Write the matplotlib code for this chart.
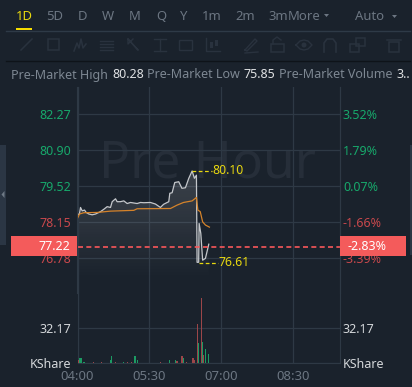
import numpy as np
import matplotlib
matplotlib.use('Agg')
import matplotlib.pyplot as plt
from matplotlib.patches import Rectangle, Circle, Polygon

# minutes after 04:00, prices
line_minutes = [0.4, 2.5, 3.8, 5.9, 8.8, 10.9, 14.2, 18.4, 22.6, 28.8, 33, 37.2, 41.4, 43.5, 47.7, 49.7, 53.9,
                58.1, 62.3, 66.5, 70.6, 74.8, 79, 83.2, 91.5, 97.8, 104, 108, 114.5, 115.8, 118.7, 122, 127,
                131, 135.4, 139.6, 143.8, 146.7, 149.2, 150, 152, 152.6, 154.7, 157, 160.5, 164.7]
line_prices = [78.42, 78.48, 78.71, 78.58, 78.61, 78.52, 78.46, 78.43, 78.46, 78.55, 78.64, 78.74, 78.71, 78.93,
               79.04, 78.93, 78.93, 78.96, 78.86, 78.90, 78.88, 78.86, 78.90, 78.89, 78.90, 78.84, 78.71, 78.83,
               78.93, 79.25, 79.27, 79.66, 79.69, 79.44, 79.46, 79.82, 80.10, 79.82, 79.94, 76.62, 76.62, 78.10,
               77.72, 76.70, 76.77, 77.31]

avg_minutes = [0.4, 2.5, 8, 24.7, 41.4, 70.6, 74.8, 116.6, 125, 133, 143.8, 149.2, 151, 154, 157, 160.5, 165.5]
avg_prices = [78.32, 78.46, 78.51, 78.52, 78.57, 78.60, 78.66, 78.67, 78.80, 78.90, 78.96, 79.09, 78.61, 78.55,
              78.16, 78.04, 77.96]

red_minutes = [0.3, 1.5, 20, 30, 48, 63, 68, 104, 125, 131, 133, 137, 144.7, 147, 150.5, 155.6, 158]
red_volumes = [8.5, 3, 1, 1, 1.2, 1, 1.2, 1, 1.8, 6, 3, 1, 4.5, 3, 35.8, 59.7, 7]
green_minutes = [3, 4.5, 8, 42, 43, 58, 72, 75, 115, 122.5, 132.6, 152, 157, 160.6, 164]
green_volumes = [5, 4.6, 1, 2.4, 6.7, 1, 6.7, 2.4, 3, 3, 4.3, 18, 19, 13, 8]

price_ticks = [82.27, 80.90, 79.52, 78.15, 76.78]
price_labels = ['82.27', '80.90', '79.52', '78.15', '76.78']
pct_labels = ['3.52%', '1.79%', '0.07%', '-1.66%', '-3.39%']
tick_colors = ['#17a86b', '#17a86b', '#17a86b', '#c8484c', '#c8484c']
time_ticks = [0, 90, 180, 270]
time_labels = ['04:00', '05:30', '07:00', '08:30']
vol_ticks = [0, 32.17, 64.34]
current_price = 77.22
high_price = 80.10
low_price = 76.61

BG = '#1a222c'
GRID = '#2e3945'
W, H = 412, 387

plt.rcParams['font.family'] = ['Noto Sans', 'DejaVu Sans']
fig = plt.figure(figsize=(W / 100, H / 100), dpi=100, facecolor=BG)


def box(left, top, right, bottom):
    return [left / W, 1 - bottom / H, (right - left) / W, (bottom - top) / H]


ax = fig.add_axes(box(77.5, 87, 339.5, 293), facecolor=BG)
vol = fig.add_axes(box(77.5, 293, 339.5, 363), facecolor=BG)
xmax = 328.7
ymin, ymax = 75.45, 83.30

# watermark
ax.text(163, 80.36, 'Pre Hour', color='#262e39', fontsize=37, ha='center', va='center', zorder=0)

# area under the line
grad = np.ones((128, 1, 4))
grad[..., 3] = np.linspace(0.15, 0, 128).reshape(-1, 1)
im = ax.imshow(grad, extent=[0, xmax, 75.9, high_price], origin='upper', aspect='auto', zorder=1)
poly = Polygon(list(zip(line_minutes, line_prices)) + [(line_minutes[-1], ymin), (line_minutes[0], ymin)],
               closed=True, transform=ax.transData, fc='none', ec='none')
ax.add_patch(poly)
im.set_clip_path(poly)

ax.plot(line_minutes, line_prices, color='#c4c7cb', lw=0.9, zorder=3)
ax.plot(avg_minutes, avg_prices, color='#d5832a', lw=0.9, zorder=4)
ax.axhline(current_price, color='#f9575a', lw=1.2, ls=(0, (3, 2)), zorder=5)

# high / low markers
ax.plot([143.8, 169], [high_price, high_price], color='#e8d80f', lw=0.9, ls=(0, (3, 2)), zorder=5)
ax.text(169, high_price, '80.10', color='#e8d80f', fontsize=8.8, va='center', ha='left', zorder=6)
ax.plot([152, 176], [low_price, low_price], color='#e8d80f', lw=0.9, ls=(0, (3, 2)), zorder=5)
ax.text(177, low_price, '76.61', color='#e8d80f', fontsize=8.8, va='center', ha='left', zorder=6)

ax.set_xlim(0, xmax)
ax.set_ylim(ymin, ymax)
ax.set_xticks(time_ticks)
ax.set_yticks(price_ticks)
ax.set_yticklabels(price_labels)
ax.tick_params(axis='x', labelbottom=False, length=0)
ax.tick_params(axis='y', length=0, pad=4.5, labelsize=9)
for lab, c in zip(ax.get_yticklabels(), tick_colors):
    lab.set_color(c)
ax.grid(True, color=GRID, lw=0.9, zorder=0)
ax.set_axisbelow(True)

right = ax.twinx()
right.set_ylim(ymin, ymax)
right.set_yticks(price_ticks)
right.set_yticklabels(pct_labels)
right.tick_params(axis='y', length=0, pad=2.5, labelsize=9)
for lab, c in zip(right.get_yticklabels(), tick_colors):
    lab.set_color(c)

for a in (ax, right):
    for name in ('top', 'bottom'):
        a.spines[name].set_visible(False)
    for name in ('left', 'right'):
        a.spines[name].set_color(GRID)

# volume bars
vol.bar(red_minutes, red_volumes, width=1.8, color='#9c4649', zorder=3)
vol.bar(green_minutes, green_volumes, width=1.6, color='#1c9a63', zorder=3)
vol.set_xlim(0, xmax)
vol.set_ylim(0, 64.34)
vol.set_xticks(time_ticks)
vol.set_xticklabels(time_labels)
vol.set_yticks(vol_ticks[:2])
vol.set_yticklabels(['KShare', '32.17'])
vol.tick_params(axis='x', length=0, pad=5, labelsize=9.4, labelcolor='#6c7682')
vol.tick_params(axis='y', length=0, pad=4.5, labelsize=9, labelcolor='#d4d7da')
vol.grid(True, color=GRID, lw=0.9, zorder=0)
vol.set_axisbelow(True)
for name in ('top',):
    vol.spines[name].set_visible(False)
for name in ('left', 'right', 'bottom'):
    vol.spines[name].set_color(GRID)

vol_r = vol.twinx()
vol_r.set_ylim(0, 64.34)
vol_r.set_yticks(vol_ticks[:2])
vol_r.set_yticklabels(['KShare', '32.17'])
vol_r.tick_params(axis='y', length=0, pad=2.5, labelsize=9, labelcolor='#d4d7da')
for s in vol_r.spines.values():
    s.set_visible(False)

# overlay in pixel coordinates for the app chrome
ui = fig.add_axes([0, 0, 1, 1], facecolor='none')
ui.set_xlim(0, W)
ui.set_ylim(H, 0)
ui.axis('off')

# price flags
ui.add_patch(Rectangle((11, 236), 66, 20, fc='#f45b5b', ec='none'))
ui.add_patch(Rectangle((340, 236), 66, 20, fc='#f45b5b', ec='none'))
ui.text(70, 246.5, f'{current_price:.2f}', color='white', fontsize=9, ha='right', va='center')
ui.text(348, 246.5, '-2.83%', color='white', fontsize=9, ha='left', va='center')

# side handles
ui.add_patch(Rectangle((0, 145), 6, 100, fc='#2b3644', ec='none'))
ui.add_patch(Polygon([(4.5, 191), (4.5, 198), (1.5, 194.5)], fc='#6f7a86', ec='none'))
ui.add_patch(Rectangle((410, 145), 2, 110, fc='#2b3644', ec='none'))

# period tabs
tabs = [('1D', 24, '#e8d80f'), ('5D', 55, '#6c7682'), ('D', 83, '#6c7682'), ('W', 108, '#6c7682'),
        ('M', 135, '#6c7682'), ('Q', 161, '#6c7682'), ('Y', 184, '#6c7682'), ('1m', 212, '#6c7682'),
        ('2m', 245, '#6c7682'), ('3m', 278, '#6c7682'), ('More', 304, '#6c7682'), ('Auto', 370, '#6c7682')]
for name, x, c in tabs:
    ui.text(x, 16, name, color=c, fontsize=9.4, ha='center', va='center')
ui.add_patch(Polygon([(324, 14), (329, 14), (326.5, 17)], fc='#6c7682', ec='none'))
ui.add_patch(Polygon([(392, 15), (397, 15), (394.5, 18)], fc='#6c7682', ec='none'))
ui.add_patch(Rectangle((16, 28), 16, 2, fc='#f5dc00', ec='none'))
ui.plot([6, 410], [30.5, 30.5], color='#2e3a47', lw=1)
ui.plot([6, 410], [60.5, 60.5], color='#0e1319', lw=1)

# toolbar icons
ic = '#29323e'
ui.plot([21, 32], [50, 39], color=ic, lw=1.1)
ui.add_patch(Rectangle((48, 39), 11, 11, fc='none', ec=ic, lw=1.1))
ui.plot([74, 77, 79, 81, 83, 86], [51, 43, 48, 39, 48, 44], color=ic, lw=1.1)
for y in (41, 44, 47, 50):
    ui.plot([100, 113], [y, y], color=ic, lw=1.0)
ui.plot([128, 138, 128, 128, 133], [39, 50, 39, 44, 39], color=ic, lw=1.0)
ui.plot([154, 166], [39, 39], color=ic, lw=1.0)
ui.plot([154, 166], [51, 51], color=ic, lw=1.0)
ui.plot([160, 160], [39, 51], color=ic, lw=1.0)
ui.add_patch(Rectangle((179, 40), 13, 10, fc='none', ec=ic, lw=1.0))
ui.plot([206, 206, 220], [38, 51, 51], color=ic, lw=1.0)
ui.add_patch(Rectangle((210, 42), 3, 6, fc=ic, ec='none'))
ui.add_patch(Rectangle((215, 40), 3, 6, fc=ic, ec='none'))
ui.plot([245, 255, 257, 247, 245], [50, 39, 41, 51, 50], color=ic, lw=1.0)
ui.plot([245, 258], [53, 52], color=ic, lw=1.0)
ui.add_patch(Rectangle((271, 44), 13, 8, fc='none', ec=ic, lw=1.1))
ui.plot([273, 273, 277, 281], [44, 40, 37, 40], color=ic, lw=1.0)
eye_x = [296, 300, 304, 308, 312, 308, 304, 300, 296]
eye_y = [45, 41, 40, 41, 45, 49, 50, 49, 45]
ui.plot(eye_x, eye_y, color=ic, lw=1.0)
ui.add_patch(Circle((304, 45), 2.5, fc=ic, ec='none'))
ui.plot([324, 324, 327, 333, 336, 336], [52, 43, 39, 39, 43, 52], color=ic, lw=1.2)
ui.add_patch(Rectangle((350, 44), 9, 8, fc='none', ec=ic, lw=1.1))
ui.add_patch(Rectangle((356, 38), 9, 8, fc='none', ec=ic, lw=1.1))
ui.add_patch(Rectangle((389, 42), 10, 10, fc='none', ec=ic, lw=1.1))
ui.plot([387, 401], [40, 40], color=ic, lw=1.1)

# pre-market summary row
summary = [('Pre-Market High', 11, '#7d8792'), ('80.28', 112, '#dfe1e3'), ('Pre-Market Low', 147, '#7d8792'),
           ('75.85', 244, '#dfe1e3'), ('Pre-Market Volume', 279, '#7d8792'), ('3..', 397, '#dfe1e3')]
for s, x, c in summary:
    ui.text(x, 75, s, color=c, fontsize=9, ha='left', va='center')

fig.savefig('out.png', dpi=100, facecolor=BG)
